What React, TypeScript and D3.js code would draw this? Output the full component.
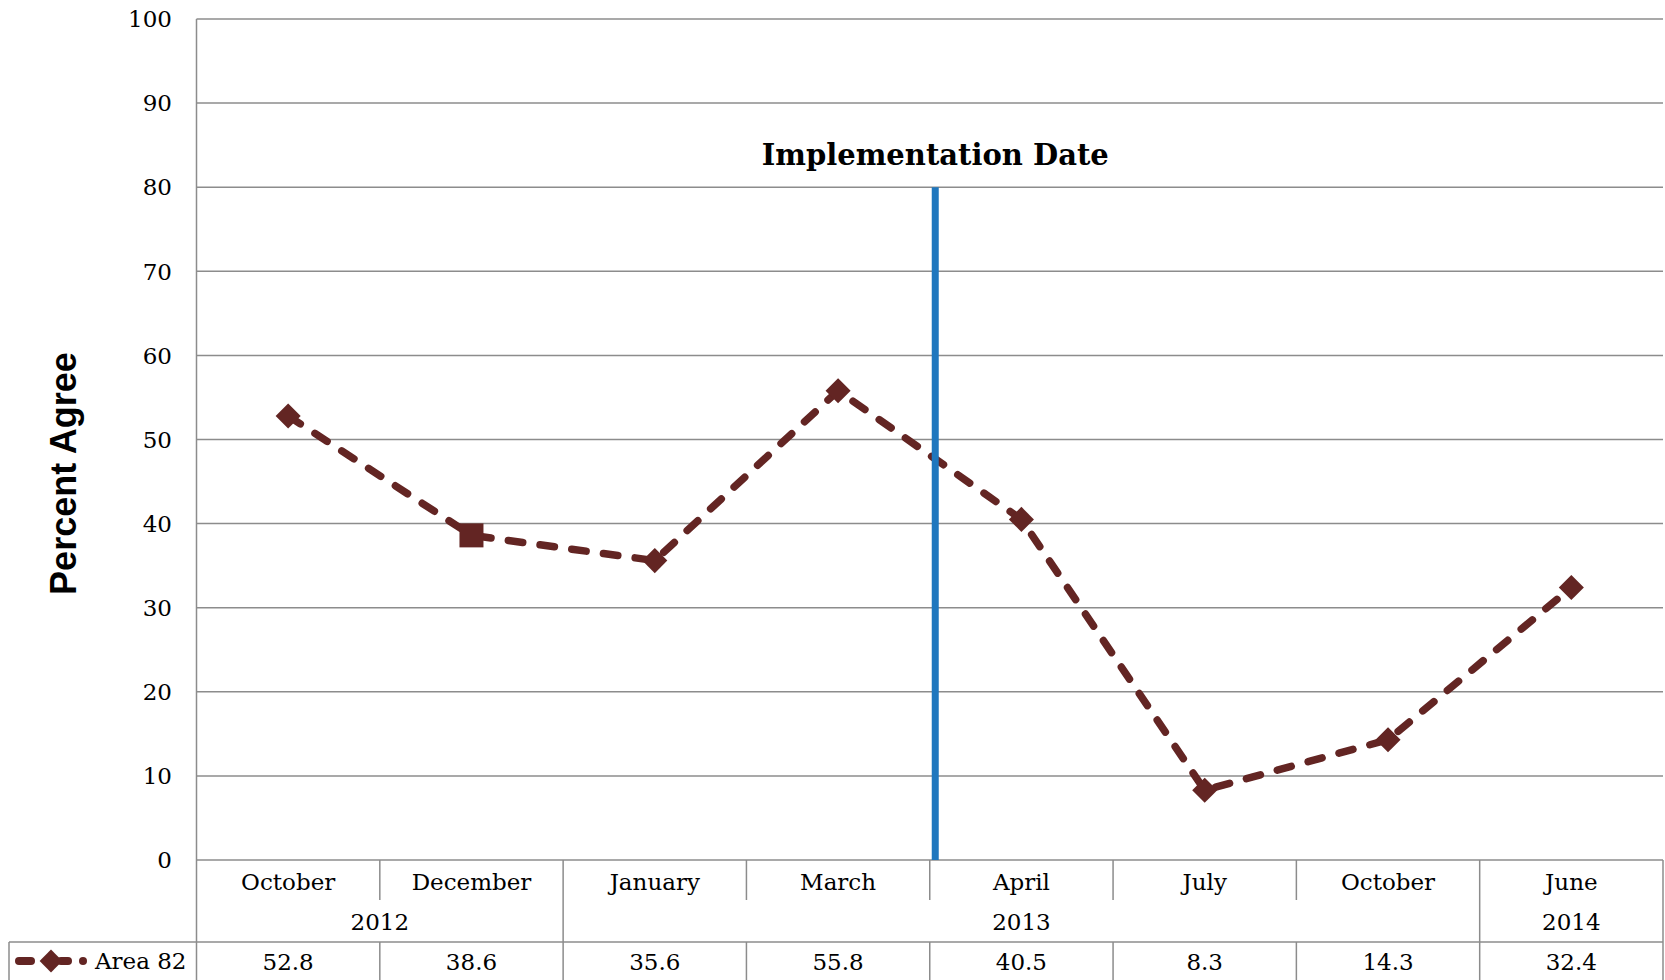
import React from "react";
import * as d3 from "d3";

// Survey periods and results
const months = ["October", "December", "January", "March", "April", "July", "October", "June"];
const years = [
  { label: "2012", from: 0, to: 2 },
  { label: "2013", from: 2, to: 7 },
  { label: "2014", from: 7, to: 8 },
];
const seriesName = "Area 82";
const values = [52.8, 38.6, 35.6, 55.8, 40.5, 8.3, 14.3, 32.4];
const yTicks = [0, 10, 20, 30, 40, 50, 60, 70, 80, 90, 100];
// Implementation marker: position in column units, and height on the value axis
const implementationAt = 4.03;
const implementationTop = 80;
const implementationLabel = "Implementation Date";

const W = 1665;
const H = 980;
const left = 196.5;
const right = 1663;
const top = 19;
const bottom = 860;
const legendLeft = 9;
const yearRowBottom = 942;

const serif = "'DejaVu Serif', 'Liberation Serif', serif";
const sans = "'Liberation Sans', Arial, sans-serif";
const gridColor = "#8c8c8c";
const lineColor = "#632523";
const blue = "#1f77be";

export default function App() {
  const idx = months.map((_, i) => i);
  const x = d3.scaleBand<number>().domain(idx).range([left, right]).padding(0);
  const xPos = d3.scaleLinear().domain([0, months.length]).range([left, right]);
  const y = d3.scaleLinear().domain([0, 100]).range([bottom, top]);
  const bw = x.bandwidth();
  const cx = (i: number) => (x(i) as number) + bw / 2;

  const linePath = d3
    .line<number>()
    .x((_, i) => cx(i))
    .y((d) => y(d))(values) as string;

  const diamond = d3.symbol().type(d3.symbolDiamond2).size(400)() as string;
  const square = d3.symbol().type(d3.symbolSquare).size(576)() as string;
  // December's marker renders as a square in the source
  const markerShape = values.map((_, i) => (i === 1 ? square : diamond));

  const yearBoundaries = new Set(years.map((g) => g.from));

  return (
    <div style={{ position: "absolute", left: 0, top: 0 }}>
      <svg width={W} height={H} style={{ display: "block", background: "#fff" }}>
        {/* gridlines */}
        {yTicks.map((t) => (
          <line key={"g" + t} x1={left} x2={right} y1={y(t)} y2={y(t)} stroke={gridColor} strokeWidth={1.5} />
        ))}
        {/* tick labels */}
        {yTicks.map((t) => (
          <text
            key={"t" + t}
            x={172}
            y={y(t)}
            dy="0.36em"
            textAnchor="end"
            fontFamily={serif}
            fontSize={23}
            fill="#000"
          >
            {t}
          </text>
        ))}
        {/* value axis line */}
        <line x1={left} x2={left} y1={top} y2={H} stroke={gridColor} strokeWidth={1.5} />

        {/* axis title */}
        <text
          transform={`translate(76,${(top + bottom) / 2 + 34}) rotate(-90)`}
          textAnchor="middle"
          fontFamily={sans}
          fontWeight="bold"
          fontSize={36}
          fill="#000"
        >
          Percent Agree
        </text>

        {/* series line and markers */}
        <path
          d={linePath}
          fill="none"
          stroke={lineColor}
          strokeWidth={7.5}
          strokeDasharray="14.5 17.5"
          strokeLinecap="round"
          strokeLinejoin="round"
        />
        {values.map((v, i) => (
          <path key={"m" + i} d={markerShape[i]} transform={`translate(${cx(i)},${y(v)})`} fill={lineColor} />
        ))}

        {/* implementation marker */}
        <line
          x1={xPos(implementationAt)}
          x2={xPos(implementationAt)}
          y1={y(implementationTop)}
          y2={y(0)}
          stroke={blue}
          strokeWidth={7}
        />
        <text
          x={xPos(implementationAt)}
          y={165}
          textAnchor="middle"
          fontFamily={serif}
          fontWeight="bold"
          fontSize={29}
          fill="#000"
        >
          {implementationLabel}
        </text>

        {/* data table */}
        <line x1={right} x2={right} y1={bottom} y2={H} stroke={gridColor} strokeWidth={1.5} />
        <line x1={legendLeft} x2={right} y1={yearRowBottom} y2={yearRowBottom} stroke={gridColor} strokeWidth={1.5} />
        <line x1={legendLeft} x2={legendLeft} y1={yearRowBottom} y2={H} stroke={gridColor} strokeWidth={1.5} />
        {idx.slice(1).map((i) => (
          <line
            key={"d" + i}
            x1={x(i) as number}
            x2={x(i) as number}
            y1={bottom}
            y2={yearBoundaries.has(i) ? yearRowBottom : 900}
            stroke={gridColor}
            strokeWidth={1.5}
          />
        ))}
        {idx.slice(1).map((i) => (
          <line
            key={"r" + i}
            x1={x(i) as number}
            x2={x(i) as number}
            y1={yearRowBottom}
            y2={H}
            stroke={gridColor}
            strokeWidth={1.5}
          />
        ))}
        {months.map((m, i) => (
          <text key={"mo" + i} x={cx(i)} y={890} textAnchor="middle" fontFamily={serif} fontSize={23} fill="#000">
            {m}
          </text>
        ))}
        {years.map((g) => (
          <text
            key={"y" + g.label}
            x={(xPos(g.from) + xPos(g.to)) / 2}
            y={930}
            textAnchor="middle"
            fontFamily={serif}
            fontSize={23}
            fill="#000"
          >
            {g.label}
          </text>
        ))}
        {values.map((v, i) => (
          <text key={"v" + i} x={cx(i)} y={970} textAnchor="middle" fontFamily={serif} fontSize={23} fill="#000">
            {v.toFixed(1)}
          </text>
        ))}

        {/* legend key */}
        <g>
          <line x1={19} x2={31} y1={961} y2={961} stroke={lineColor} strokeWidth={8} strokeLinecap="round" />
          <path d={d3.symbol().type(d3.symbolDiamond2).size(330)() as string} transform="translate(51,961)" fill={lineColor} />
          <line x1={61} x2={68} y1={961} y2={961} stroke={lineColor} strokeWidth={8} strokeLinecap="round" />
          <circle cx={83} cy={961} r={4} fill={lineColor} />
          <text x={95} y={969} fontFamily={serif} fontSize={23} fill="#000">
            {seriesName}
          </text>
        </g>
      </svg>
    </div>
  );
}
